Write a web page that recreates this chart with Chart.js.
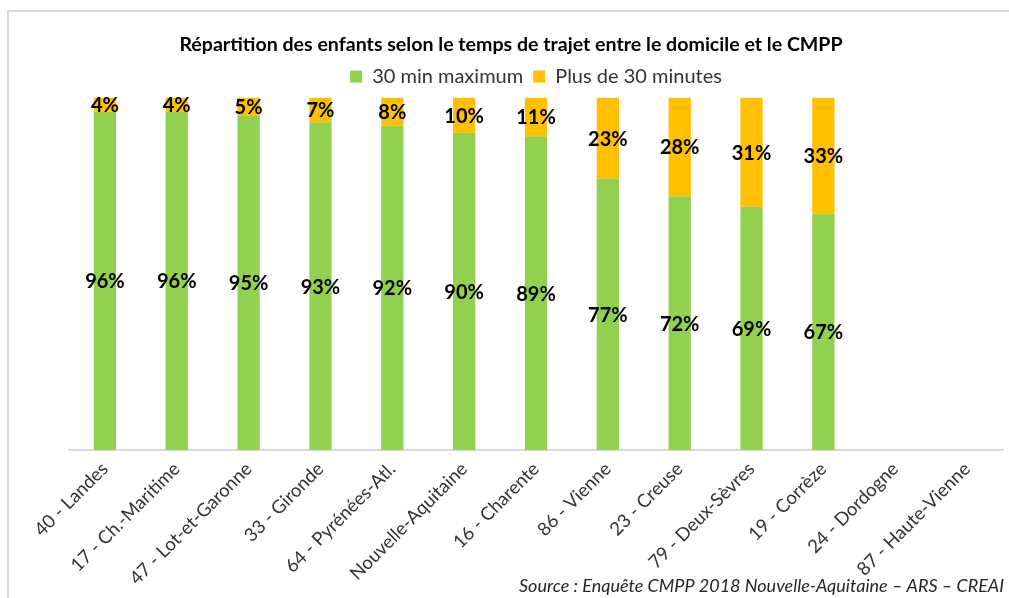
<!DOCTYPE html>
<html>
<head>
<meta charset="utf-8">
<script src="https://cdn.jsdelivr.net/npm/chart.js@4"></script>
<style>
  html, body { margin: 0; padding: 0; background: #fff; }
  #wrap { width: 1009px; height: 598px; }
</style>
</head>
<body>
<div id="wrap"><canvas id="trajet" width="1009" height="598"></canvas></div>
<script>
// departements, tries par part "30 min maximum"
const categories = ['40 - Landes', '17 - Ch.-Maritime', '47 - Lot-et-Garonne', '33 - Gironde',
    '64 - Pyrénées-Atl.', 'Nouvelle-Aquitaine', '16 - Charente', '86 - Vienne', '23 - Creuse',
    '79 - Deux-Sèvres', '19 - Corrèze', '24 - Dordogne', '87 - Haute-Vienne'];
const moins30 = [96, 96, 95, 93, 92, 90, 89, 77, 72, 69, 67, null, null];
const plus30 = [4, 4, 5, 7, 8, 10, 11, 23, 28, 31, 33, null, null];
const sourceText = 'Source : Enquête CMPP 2018 Nouvelle-Aquitaine – ARS – CREAI';

const FONT = 'Lato, "Open Sans", sans-serif';

// etiquettes de valeur au centre de chaque segment
const barLabels = {
    id: 'barLabels',
    afterDatasetsDraw(chart) {
        const ctx = chart.ctx;
        ctx.save();
        ctx.font = 'bold 20px ' + FONT;
        ctx.fillStyle = '#000';
        ctx.textAlign = 'center';
        ctx.textBaseline = 'middle';
        chart.data.datasets.forEach((ds, i) => {
            chart.getDatasetMeta(i).data.forEach((bar, j) => {
                const v = ds.data[j];
                if (v === null || v === undefined) return;
                const p = bar.getProps(['x', 'y', 'base'], true);
                ctx.fillText(v + '%', p.x, (p.y + p.base) / 2 + 1);
            });
        });
        ctx.restore();
    }
};

// cadre gris + source
const frame = {
    id: 'frame',
    beforeDraw(chart) {
        const ctx = chart.ctx;
        ctx.save();
        ctx.strokeStyle = '#d9d9d9';
        ctx.lineWidth = 2;
        ctx.beginPath();
        ctx.moveTo(8, 598);
        ctx.lineTo(8, 11);
        ctx.lineTo(1009, 11);
        ctx.stroke();
        ctx.restore();
    },
    afterDraw(chart) {
        const ctx = chart.ctx;
        ctx.save();
        ctx.font = 'italic 18px ' + FONT;
        ctx.fillStyle = '#262626';
        ctx.textAlign = 'right';
        ctx.textBaseline = 'alphabetic';
        ctx.fillText(sourceText, 1004, 592);
        ctx.restore();
    }
};

// un peu d'espace sous la legende, titre centre sur tout le cadre
const legendGap = {
    id: 'legendGap',
    beforeInit(chart) {
        const fit = chart.legend.fit;
        chart.legend.fit = function () {
            fit.bind(chart.legend)();
            this.height += 1;
        };
    },
    afterLayout(chart) {
        chart.titleBlock.left = 13;
        chart.titleBlock.right = 1009;
        chart.titleBlock.width = 996;
    }
};

new Chart(document.getElementById('trajet'), {
    type: 'bar',
    data: {
        labels: categories,
        datasets: [{
            label: '30 min maximum',
            data: moins30,
            backgroundColor: '#92d050',
            categoryPercentage: 1, barPercentage: 0.31
        }, {
            label: 'Plus de 30 minutes',
            data: plus30,
            backgroundColor: '#ffc000',
            categoryPercentage: 1, barPercentage: 0.31
        }]
    },
    options: {
        responsive: false, animation: false,
        layout: { padding: { left: 69, right: 6, top: 10, bottom: 8 } },
        plugins: {
            title: {
                display: true,
                text: 'Répartition des enfants selon le temps de trajet entre le domicile et le CMPP',
                color: '#000',
                font: { family: FONT, size: 19.6, weight: 'bold' },
                padding: { top: 23, bottom: 0 }
            },
            legend: {
                labels: {
                    color: '#333', boxWidth: 12, boxHeight: 12, padding: 10,
                    font: { family: FONT, size: 20 }
                }
            },
            tooltip: { enabled: false }
        },
        scales: {
            x: {
                stacked: true,
                grid: { display: false, drawTicks: false },
                border: { color: '#d9d9d9', width: 2 },
                ticks: {
                    color: '#333', maxRotation: 45, minRotation: 45, padding: 8,
                    font: { family: FONT, size: 18.5 }
                },
                afterFit: (s) => { s.height = 140; }
            },
            y: {
                stacked: true, display: false, min: 0, max: 100
            }
        }
    },
    plugins: [barLabels, frame, legendGap]
});
</script>
</body>
</html>
